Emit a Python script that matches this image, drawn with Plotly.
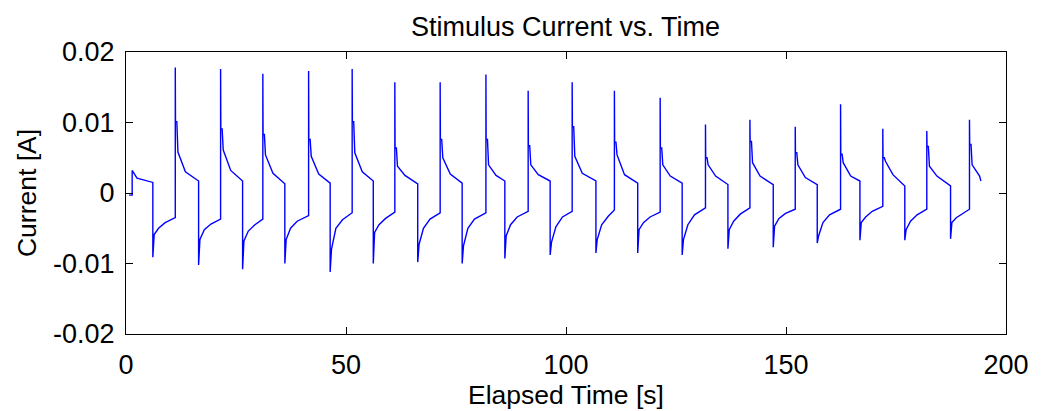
import plotly.graph_objects as go

# ---- data (time in s, current in A) ----
start_t = [0.7, 1.4, 1.4, 2.5, 6.1]
start_i = [-0.0003, -0.0003, 0.0032, 0.0021, 0.0015]

down_t = [6.1, 16.5, 26.5, 36.1, 46.4, 56.2, 66.3, 76.4, 86.1, 96.4,
          106.8, 116.3, 126.4, 136.8, 147.1, 157.1, 166.8, 177.0, 187.4]
down_trough = [-0.0091, -0.0102, -0.0108, -0.0100, -0.0112, -0.0100, -0.0098, -0.0100, -0.0093, -0.0088,
               -0.0085, -0.0085, -0.0088, -0.0079, -0.0077, -0.0071, -0.0067, -0.0067, -0.0065]
down_early = [-0.0059, -0.0066, -0.0068, -0.0066, -0.0080, -0.0056, -0.0073, -0.0075, -0.0061, -0.0070,
              -0.0066, -0.0052, -0.0066, -0.0052, -0.0047, -0.0061, -0.0042, -0.0052, -0.0042]
down_mid = [-0.0050, -0.0052, -0.0054, -0.0050, -0.0050, -0.0045, -0.0050, -0.0050, -0.0045, -0.0048,
            -0.0045, -0.0042, -0.0045, -0.0040, -0.0036, -0.0042, -0.0034, -0.0040, -0.0035]
down_late = [-0.0042, -0.0044, -0.0045, -0.0040, -0.0038, -0.0036, -0.0037, -0.0037, -0.0034, -0.0034,
             -0.0033, -0.0034, -0.0031, -0.0030, -0.0029, -0.0031, -0.0026, -0.0031, -0.0029]
down_end = [-0.0035, -0.0037, -0.0037, -0.0032, -0.0028, -0.0027, -0.0028, -0.0028, -0.0026, -0.0026,
            -0.0024, -0.0027, -0.0021, -0.0021, -0.0023, -0.0023, -0.0019, -0.0023, -0.0023]

up_t = [11.2, 21.5, 31.1, 41.5, 51.4, 61.1, 71.4, 81.8, 91.4, 101.4,
        111.0, 121.4, 131.7, 141.8, 152.1, 162.4, 172.0, 182.0, 191.7]
up_peak = [0.0178, 0.0176, 0.0169, 0.0173, 0.0176, 0.0157, 0.0157, 0.0168, 0.0145, 0.0157,
           0.0145, 0.0135, 0.0097, 0.0104, 0.0094, 0.0126, 0.0091, 0.0088, 0.0104]
up_shoulder = [0.0101, 0.0091, 0.0083, 0.0076, 0.0101, 0.0064, 0.0076, 0.0076, 0.0067, 0.0094,
               0.0072, 0.0064, 0.0050, 0.0073, 0.0057, 0.0055, 0.0050, 0.0066, 0.0069]
up_early = [0.0058, 0.0061, 0.0054, 0.0052, 0.0057, 0.0038, 0.0050, 0.0040, 0.0040, 0.0052,
            0.0054, 0.0040, 0.0040, 0.0043, 0.0040, 0.0043, 0.0045, 0.0038, 0.0040]
up_late = [0.0030, 0.0032, 0.0028, 0.0027, 0.0030, 0.0025, 0.0027, 0.0025, 0.0026, 0.0028,
           0.0026, 0.0024, 0.0024, 0.0024, 0.0022, 0.0024, 0.0026, 0.0024, 0.0024]
up_end = [0.0017, 0.0017, 0.0013, 0.0014, 0.0017, 0.0013, 0.0014, 0.0017, 0.0017, 0.0017,
          0.0014, 0.0014, 0.0012, 0.0012, 0.0012, 0.0017, 0.0010, 0.0010, 0.0017]
end_t = 194.3

# time offsets of the read points within each half-cycle
down_offsets = [0.0, 0.3, 1.3, 2.8]
up_offsets = [0.0, 0.05, 0.35, 0.6, 2.3]

x_tickvals = [0, 50, 100, 150, 200]
y_tickvals = [-0.02, -0.01, 0, 0.01, 0.02]
y_ticktext = ["-0.02", "-0.01", "0", "0.01", "0.02"]

# ---- assemble the trace ----
t = list(start_t)
i = list(start_i)
for k in range(len(down_t)):
    ts = down_t[k]
    vals = [down_trough[k], down_early[k], down_mid[k], down_late[k]]
    for off, v in zip(down_offsets, vals):
        t.append(ts + off)
        i.append(v)
    t.append(up_t[k])
    i.append(down_end[k])
    ts = up_t[k]
    te = down_t[k + 1] if k + 1 < len(down_t) else end_t
    vals = [up_peak[k], up_shoulder[k], up_shoulder[k], up_early[k], up_late[k]]
    for off, v in zip(up_offsets, vals):
        t.append(ts + off)
        i.append(v)
    t.append(te)
    i.append(up_end[k])

FONT = "Liberation Sans, Arial, sans-serif"

fig = go.Figure()
fig.add_trace(go.Scatter(x=t, y=i, mode="lines",
                         line=dict(color="#0000FF", width=1.4),
                         showlegend=False, hoverinfo="skip"))

axis_common = dict(showline=True, linecolor="black", linewidth=1, mirror="ticks",
                   ticks="inside", ticklen=7, tickcolor="black", tickwidth=1,
                   showgrid=False, zeroline=False, automargin=False,
                   tickfont=dict(family=FONT, size=27, color="black"))

# the page body adds an 8 px offset, so the figure is sized to fill the window
fig.update_layout(
    width=1041, height=403,
    margin=dict(l=118, r=43, t=44, b=77),
    paper_bgcolor="white", plot_bgcolor="white",
    font=dict(family=FONT, color="black"),
    title=dict(text="Stimulus Current vs. Time", x=0.5355, xanchor="center",
               y=0.9305, yref="container", yanchor="bottom",
               font=dict(family=FONT, size=27, color="black")),
    xaxis=dict(range=[0, 200], tickvals=x_tickvals,
               title=dict(text="Elapsed Time [s]", standoff=2,
                          font=dict(family=FONT, size=26.5, color="black")),
               ticklabelstandoff=7,
               **axis_common),
    yaxis=dict(range=[-0.02, 0.02], tickvals=y_tickvals, ticktext=y_ticktext,
               title=dict(text="Current [A]", standoff=8,
                          font=dict(family=FONT, size=26.5, color="black")),
               ticklabelstandoff=5,
               **axis_common),
)

fig.write_html("out.html")
